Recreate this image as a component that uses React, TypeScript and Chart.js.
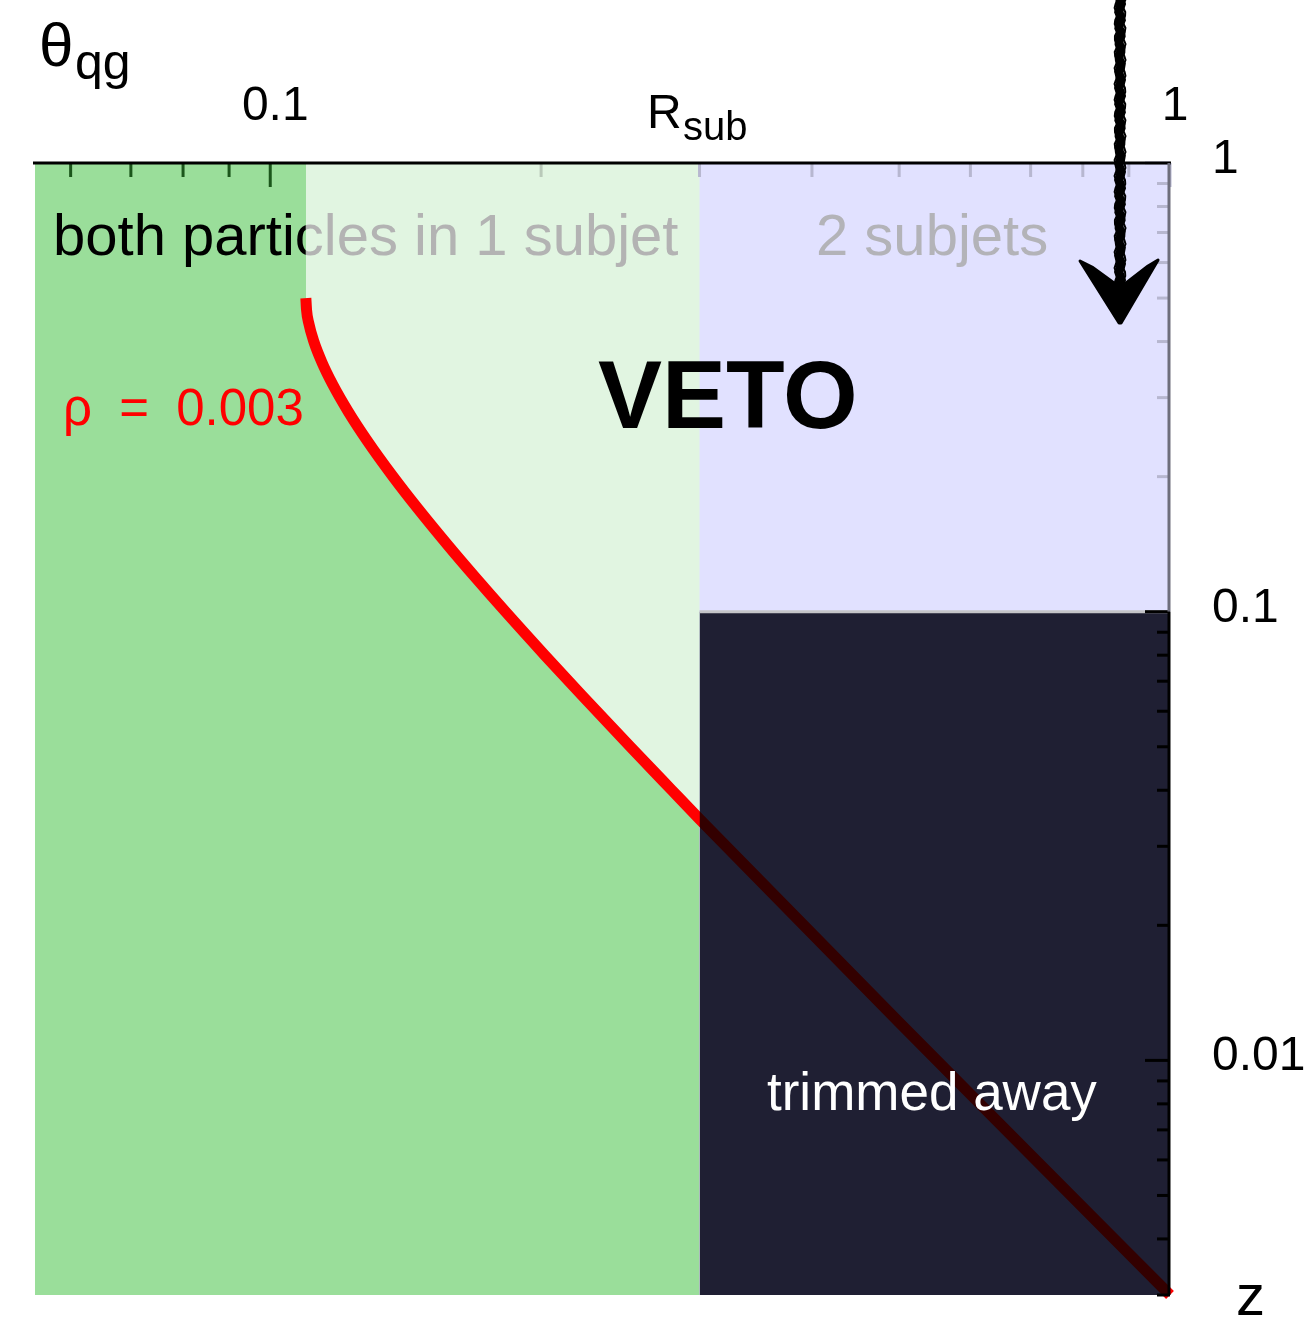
import React, { useEffect, useRef } from "react";
import { Chart, registerables } from "chart.js";
Chart.register(...registerables);

// ---- data ----
const rhoLabel = "ρ = 0.003";
const thetaMin = 0.05477;
const thetaMax = 1;
const zMin = 0.003;
const zMax = 1;
const rSub = 0.3; // R_sub boundary
const zCut = 0.1; // trimming cut
const thetaSplit = 0.10954; // start of the rho curve

// red curve (theta_qg, z)
const curveTheta = [0.10954, 0.10974, 0.11034, 0.1118, 0.11411, 0.11742, 0.12199, 0.12825, 0.13693, 0.14581, 0.15785, 0.16855, 0.18257, 0.20189, 0.22218, 0.25131, 0.27951, 0.3, 0.5, 0.7, 1];
const curveZ = [0.5, 0.47, 0.44, 0.4, 0.36, 0.32, 0.28, 0.24, 0.2, 0.17, 0.14, 0.12, 0.1, 0.08, 0.065, 0.05, 0.04, 0.0345, 0.01215, 0.00616, 0.003];

const topMajorTicks = [0.1, 1];
const topTickLabels = ["0.1", "1"];
const topMinorTicks = [0.06, 0.07, 0.08, 0.09, 0.2, 0.3, 0.4, 0.5, 0.6, 0.7, 0.8, 0.9];
const rightMajorTicks = [1, 0.1, 0.01];
const rightTickLabels = ["1", "0.1", "0.01"];
const rightMinorTicks = [0.9, 0.8, 0.7, 0.6, 0.5, 0.4, 0.3, 0.2, 0.09, 0.08, 0.07, 0.06, 0.05, 0.04, 0.03, 0.02, 0.009, 0.008, 0.007, 0.006, 0.005, 0.004, 0.003];

const arrowTheta = 0.88;
const arrowTipZ = 0.44;

const FONT = "'Liberation Sans', Arial, Helvetica, sans-serif";

const GREEN = "#9ade9a";
const BLUE = "#9b9bff";
const WHITE_VEIL = "rgba(255,255,255,0.7)";
const DARK_VEIL = "rgba(0,0,0,0.8)";

const overlayPlugin = {
  id: "overlayPlugin",
  afterDraw(chart: any) {
    const ctx = chart.ctx as CanvasRenderingContext2D;
    const x = chart.scales.x;
    const y = chart.scales.y;
    const area = chart.chartArea;
    const px = (v: number) => x.getPixelForValue(v);
    const py = (v: number) => y.getPixelForValue(v);
    ctx.save();

    // ---- ticks on top axis ----
    ctx.lineCap = "butt";
    const topColor = (v: number) => (v < thetaSplit ? "#1b561b" : v < rSub - 1e-9 ? "#b9c9b9" : "#b7b7d0");
    ctx.lineWidth = 3;
    topMinorTicks.forEach((v) => {
      ctx.strokeStyle = topColor(v);
      ctx.beginPath();
      ctx.moveTo(px(v), area.top);
      ctx.lineTo(px(v), area.top + 14);
      ctx.stroke();
    });
    topMajorTicks.forEach((v) => {
      ctx.strokeStyle = topColor(v);
      ctx.beginPath();
      ctx.moveTo(px(v), area.top);
      ctx.lineTo(px(v), area.top + 24);
      ctx.stroke();
    });
    // ---- ticks on right axis ----
    const rightColor = (v: number) => (v > zCut + 1e-9 ? "#b7b7d0" : "#000000");
    rightMinorTicks.forEach((v) => {
      ctx.strokeStyle = rightColor(v);
      ctx.beginPath();
      ctx.moveTo(area.right, py(v));
      ctx.lineTo(area.right - 13, py(v));
      ctx.stroke();
    });
    rightMajorTicks.forEach((v) => {
      ctx.strokeStyle = rightColor(v);
      ctx.beginPath();
      ctx.moveTo(area.right, py(v));
      ctx.lineTo(area.right - 25, py(v));
      ctx.stroke();
    });

    // axis lines
    ctx.strokeStyle = "#000";
    ctx.lineWidth = 3;
    ctx.beginPath();
    ctx.moveTo(area.left - 2, area.top);
    ctx.lineTo(area.right + 1, area.top);
    ctx.stroke();
    ctx.strokeStyle = "#6e6e7c";
    ctx.beginPath();
    ctx.moveTo(area.right - 1, area.top);
    ctx.lineTo(area.right - 1, py(zCut));
    ctx.stroke();
    ctx.strokeStyle = "#000";
    ctx.beginPath();
    ctx.moveTo(area.right - 1, py(zCut));
    ctx.lineTo(area.right - 1, area.bottom);
    ctx.stroke();

    // ---- tick labels ----
    ctx.fillStyle = "#000";
    ctx.font = `48px ${FONT}`;
    ctx.textBaseline = "alphabetic";
    ctx.textAlign = "center";
    topMajorTicks.forEach((v, i) => {
      ctx.fillText(topTickLabels[i], px(v) + 5, 120);
    });
    ctx.textAlign = "left";
    rightMajorTicks.forEach((v, i) => {
      ctx.fillText(rightTickLabels[i], 1212, py(v) + 10);
    });

    // axis titles
    ctx.font = `62px ${FONT}`;
    ctx.fillText("θ", 39, 66);
    ctx.font = `50px ${FONT}`;
    ctx.fillText("qg", 75, 79);
    ctx.font = `48px ${FONT}`;
    ctx.fillText("R", 647, 128);
    ctx.font = `40px ${FONT}`;
    ctx.fillText("sub", 683, 140);
    ctx.font = `58px ${FONT}`;
    ctx.fillText("z", 1236, 1315);

    // ---- region labels ----
    const splitX = px(thetaSplit);
    ctx.font = `58px ${FONT}`;
    ctx.save();
    ctx.beginPath();
    ctx.rect(0, 0, splitX, chart.height);
    ctx.clip();
    ctx.fillStyle = "#000";
    ctx.fillText("both particles in 1 subjet", 53, 255);
    ctx.restore();
    ctx.save();
    ctx.beginPath();
    ctx.rect(splitX, 0, chart.width - splitX, chart.height);
    ctx.clip();
    ctx.fillStyle = "#b3b3b3";
    ctx.fillText("both particles in 1 subjet", 53, 255);
    ctx.restore();
    ctx.fillStyle = "#b3b3b8";
    ctx.fillText("2 subjets", 816, 255);

    ctx.fillStyle = "#000";
    ctx.font = `bold 96px ${FONT}`;
    ctx.fillText("VETO", 598, 428);

    ctx.fillStyle = "#ff0000";
    ctx.font = `51px ${FONT}`;
    (ctx as any).wordSpacing = "13px";
    ctx.fillText(rhoLabel, 63, 425);
    (ctx as any).wordSpacing = "0px";

    ctx.fillStyle = "#ffffff";
    ctx.font = `53px ${FONT}`;
    ctx.fillText("trimmed away", 767, 1110);

    // ---- hand drawn arrow ----
    const ax = px(arrowTheta);
    const tipY = py(arrowTipZ);
    ctx.strokeStyle = "#000";
    ctx.fillStyle = "#000";
    ctx.lineCap = "round";
    for (let k = 0; k < 6; k++) {
      ctx.lineWidth = k === 0 ? 9 : 2;
      ctx.beginPath();
      for (let yy = 0; yy <= tipY - 30; yy += 4) {
        const dx = Math.sin(yy * 0.41 + k * 1.7) * 1.3 + (k === 0 ? 0 : (k - 3) * 2.1);
        if (yy === 0) ctx.moveTo(ax + dx, yy);
        else ctx.lineTo(ax + dx, yy);
      }
      ctx.stroke();
    }
    ctx.beginPath();
    ctx.moveTo(ax - 40, tipY - 62);
    ctx.lineTo(ax - 28, tipY - 56);
    ctx.lineTo(ax - 6, tipY - 40);
    ctx.lineTo(ax + 6, tipY - 40);
    ctx.lineTo(ax + 28, tipY - 57);
    ctx.lineTo(ax + 38, tipY - 63);
    ctx.lineTo(ax + 1, tipY);
    ctx.lineTo(ax - 1, tipY);
    ctx.closePath();
    ctx.fill();
    ctx.lineWidth = 3;
    ctx.lineJoin = "round";
    ctx.stroke();

    ctx.restore();
  },
};

export default function App() {
  const ref = useRef<HTMLCanvasElement | null>(null);
  useEffect(() => {
    if (!ref.current) return;
    const curve = curveTheta.map((t, i) => ({ x: t, y: curveZ[i] }));
    const curveInner = curve.filter((p) => p.x <= rSub + 1e-9);
    const chart = new Chart(ref.current, {
      type: "line",
      data: {
        datasets: [
          {
            label: "both particles in 1 subjet (base)",
            data: [
              { x: thetaMin, y: zMax },
              { x: rSub, y: zMax },
            ],
            fill: "start",
            backgroundColor: GREEN,
            borderWidth: 0,
            pointRadius: 0,
            order: 6,
          },
          {
            label: "2 subjets (base)",
            data: [
              { x: rSub, y: zMax },
              { x: thetaMax, y: zMax },
            ],
            fill: "start",
            backgroundColor: BLUE,
            borderWidth: 0,
            pointRadius: 0,
            order: 5,
          },
          {
            label: "VETO 1 subjet",
            data: curveInner,
            fill: "end",
            backgroundColor: WHITE_VEIL,
            borderWidth: 0,
            pointRadius: 0,
            cubicInterpolationMode: "monotone",
            order: 4,
          },
          {
            label: "VETO 2 subjets",
            data: [
              { x: rSub, y: zMax },
              { x: thetaMax, y: zMax },
            ],
            fill: { value: zCut },
            backgroundColor: WHITE_VEIL,
            borderWidth: 0,
            pointRadius: 0,
            order: 3,
          },
          {
            label: rhoLabel,
            data: curve,
            fill: false,
            borderColor: "#ff0000",
            borderWidth: 11,
            borderCapStyle: "butt",
            pointRadius: 0,
            cubicInterpolationMode: "monotone",
            clip: false as any,
            order: 2,
          },
          {
            label: "trimmed away",
            data: [
              { x: rSub, y: zCut },
              { x: thetaMax, y: zCut },
            ],
            fill: "start",
            backgroundColor: DARK_VEIL,
            borderWidth: 0,
            pointRadius: 0,
            order: 1,
          },
          {
            label: "cut line",
            data: [
              { x: rSub, y: zCut },
              { x: thetaMax, y: zCut },
            ],
            fill: false,
            borderColor: "#c4c4c8",
            borderWidth: 3,
            pointRadius: 0,
            order: 0,
          },
        ],
      } as any,
      options: {
        animation: false,
        responsive: false,
        devicePixelRatio: 1,
        layout: { padding: { left: 35, right: 143, top: 163, bottom: 26 } },
        plugins: { legend: { display: false }, tooltip: { enabled: false } },
        scales: {
          x: { type: "logarithmic", min: thetaMin, max: thetaMax, display: false },
          y: { type: "logarithmic", min: zMin, max: zMax, display: false },
        },
      } as any,
      plugins: [overlayPlugin],
    });
    return () => chart.destroy();
  }, []);
  return (
    <div style={{ position: "absolute", left: 0, top: 0, width: 1313, height: 1321, background: "#fff" }}>
      <canvas ref={ref} width={1313} height={1321} style={{ display: "block" }} />
    </div>
  );
}
